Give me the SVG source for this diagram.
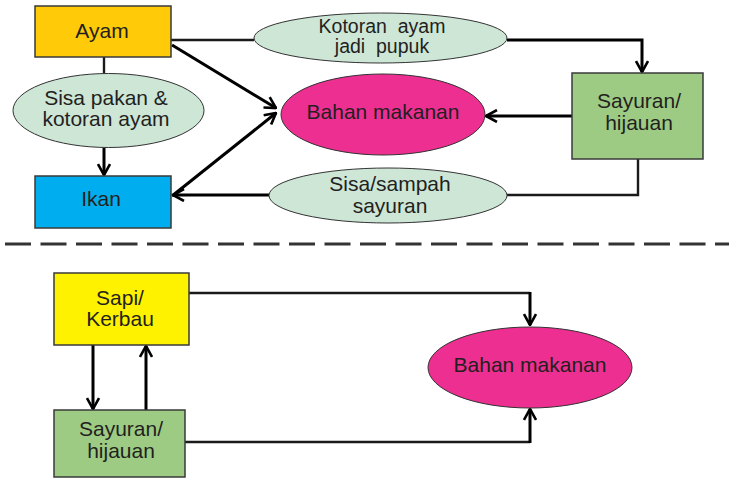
<svg xmlns="http://www.w3.org/2000/svg" width="729" height="481" viewBox="0 0 729 481">
<style>
text{font-family:"Liberation Sans",Arial,sans-serif;fill:#231F20;text-anchor:middle}
.t{font-size:21px}
.s{font-size:19.5px}
.box{stroke:#3a3a3a;stroke-width:1.5}
.ell{stroke:#333;stroke-width:1}
.ln{fill:none;stroke:#1a1a1a;stroke-width:2.4}
.ar{fill:none;stroke:#000;stroke-width:3}
</style>
<defs>
<marker id="ah" viewBox="0 0 13 14" refX="12" refY="7" markerWidth="13" markerHeight="14" markerUnits="userSpaceOnUse" orient="auto">
<path d="M1,1 L12,7 L1,13" fill="none" stroke="#000" stroke-width="2.6"/>
</marker>
</defs>
<g id="connectors">
<path class="ln" d="M171,40 H254"/>
<path class="ar" d="M507,40 H642 V72" marker-end="url(#ah)"/>
<path class="ln" d="M104,57 V73"/>
<path class="ar" d="M104,148 V175" marker-end="url(#ah)"/>
<path class="ar" d="M172,45 L276,108" marker-end="url(#ah)"/>
<path class="ar" d="M172,196 L276,113" marker-end="url(#ah)"/>
<path class="ar" d="M572,116 H486" marker-end="url(#ah)"/>
<path class="ln" d="M638,159 V195 H507"/>
<path class="ar" d="M269,195 H173" marker-end="url(#ah)"/>
<path d="M5,244 H729" fill="none" stroke="#333" stroke-width="3" stroke-dasharray="26,9.5"/>
<path class="ar" d="M93,345 V409" marker-end="url(#ah)"/>
<path class="ar" d="M146,410 V346" marker-end="url(#ah)"/>
<path class="ln" d="M189,293 H530"/>
<path class="ar" d="M530,292 V325" marker-end="url(#ah)"/>
<path class="ln" d="M185,442 H530"/>
<path class="ar" d="M530,443 V409" marker-end="url(#ah)"/>
</g>
<g id="ayam">
<rect class="box" x="35" y="6" width="136" height="51" fill="#FFCA08"/>
<text class="t" x="102" y="38">Ayam</text>
</g>
<g id="ikan">
<rect class="box" x="35" y="176" width="136" height="52" fill="#00AEEF"/>
<text class="t" x="101" y="206">Ikan</text>
</g>
<g id="sisa-pakan">
<ellipse class="ell" cx="108.5" cy="110.5" rx="95.5" ry="37" fill="#CDE6D6"/>
<text class="t" x="106" y="105">Sisa pakan &amp;</text>
<text class="t" x="106" y="126">kotoran ayam</text>
</g>
<g id="kotoran-pupuk">
<ellipse class="ell" cx="380.5" cy="38" rx="126.5" ry="25" fill="#CDE6D6"/>
<text class="s" x="382" y="33" xml:space="preserve">Kotoran  ayam</text>
<text class="s" x="382" y="53" xml:space="preserve">jadi  pupuk</text>
</g>
<g id="bahan-makanan-1">
<ellipse class="ell" cx="383" cy="114.5" rx="102" ry="40.5" fill="#EC2F91"/>
<text class="t" x="383" y="119">Bahan makanan</text>
</g>
<g id="sayuran-1">
<rect class="box" x="572" y="73" width="131" height="86" fill="#9DCB84"/>
<text class="t" x="639" y="108">Sayuran/</text>
<text class="t" x="639" y="130">hijauan</text>
</g>
<g id="sisa-sampah">
<ellipse class="ell" cx="388" cy="195.5" rx="119" ry="27.5" fill="#CDE6D6"/>
<text class="t" x="390" y="191">Sisa/sampah</text>
<text class="t" x="390" y="213">sayuran</text>
</g>
<g id="sapi">
<rect class="box" x="54" y="273" width="135" height="72" fill="#FFF200"/>
<text class="t" x="120" y="305">Sapi/</text>
<text class="t" x="120" y="326">Kerbau</text>
</g>
<g id="sayuran-2">
<rect class="box" x="54" y="410" width="131" height="67" fill="#9DCB84"/>
<text class="t" x="121" y="436">Sayuran/</text>
<text class="t" x="121" y="458">hijauan</text>
</g>
<g id="bahan-makanan-2">
<ellipse class="ell" cx="530" cy="367.5" rx="102" ry="40.5" fill="#EC2F91"/>
<text class="t" x="530" y="372">Bahan makanan</text>
</g>
</svg>
